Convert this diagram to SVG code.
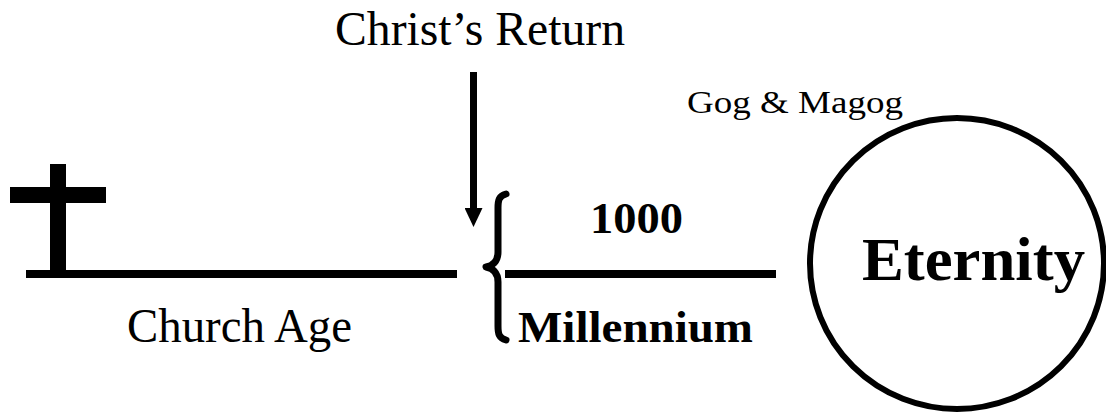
<svg xmlns="http://www.w3.org/2000/svg" width="1106" height="417" viewBox="0 0 1106 417">
  <defs>
    <marker id="arrowhead" markerUnits="userSpaceOnUse" viewBox="0 0 19 18" refX="2" refY="9" markerWidth="19" markerHeight="18" orient="auto">
      <path d="M0,0 L19,9 L0,18 Z" fill="#000"/>
    </marker>
  </defs>
  <rect width="1106" height="417" fill="#fff"/>

  <g id="christs-return">
    <text font-family="'Liberation Serif', serif" fill="#000" x="335" y="45" font-size="48" textLength="290" lengthAdjust="spacingAndGlyphs">Christ’s Return</text>
  </g>

  <g id="gog-magog">
    <text font-family="'Liberation Serif', serif" fill="#000" x="687" y="113" font-size="32" textLength="216" lengthAdjust="spacingAndGlyphs">Gog &amp; Magog</text>
  </g>

  <g id="church-age">
    <rect fill="#000" x="50" y="164" width="16" height="108"/>
    <rect fill="#000" x="10" y="187" width="96" height="16"/>
    <rect fill="#000" x="26" y="270" width="431" height="8"/>
    <text font-family="'Liberation Serif', serif" fill="#000" x="127" y="342" font-size="48" textLength="225" lengthAdjust="spacingAndGlyphs">Church Age</text>
  </g>

  <g id="millennium">
    <path fill="none" stroke="#000" stroke-width="7" stroke-linecap="round" stroke-linejoin="round" d="M506,194 C499,196 498,200 498,208 L498,252 C498,262 492,266 486,267 C492,268 498,272 498,282 L498,326 C498,334 499,338 506,340"/>
    <rect fill="#000" x="505" y="270" width="271" height="8"/>
    <text font-family="'Liberation Serif', serif" font-weight="bold" fill="#000" x="590" y="233" font-size="44" textLength="93" lengthAdjust="spacingAndGlyphs">1000</text>
    <text font-family="'Liberation Serif', serif" font-weight="bold" fill="#000" x="518" y="342" font-size="44" textLength="235" lengthAdjust="spacingAndGlyphs">Millennium</text>
  </g>

  <g id="eternity">
    <ellipse fill="none" stroke="#000" stroke-width="6" cx="957" cy="263.5" rx="147" ry="145.5"/>
    <text font-family="'Liberation Serif', serif" font-weight="bold" fill="#000" x="862" y="280" font-size="62" textLength="223" lengthAdjust="spacingAndGlyphs">Eternity</text>
  </g>

  <g id="connectors">
    <line fill="none" stroke="#000" stroke-width="7" x1="473.5" y1="72" x2="473.5" y2="210" marker-end="url(#arrowhead)"/>
  </g>
</svg>
